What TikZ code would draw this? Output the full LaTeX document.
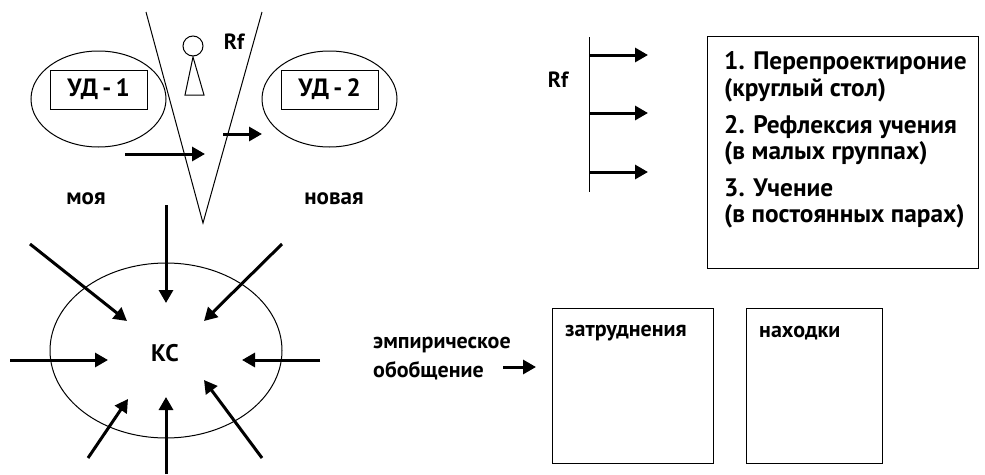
\documentclass[tikz,border=0pt]{standalone}
\usepackage{fontspec}
\setmainfont{PT Sans}
\usetikzlibrary{arrows.meta,shapes.geometric}
\begin{document}
\begin{tikzpicture}[x=1pt,y=-1pt,
  thin line/.style={line width=1pt},
  bigarrow/.style={line width=3pt,-{Triangle[length=13pt,width=14pt]}},
  lbl/.style={font=\bfseries\fontsize{23}{27}\selectfont,inner sep=0pt},
  boxtxt/.style={font=\bfseries\fontsize{25.3}{30}\selectfont,inner sep=0pt,anchor=west},
  oval/.style={draw,ellipse,thin line,inner sep=0pt},
  udbox/.style={draw,thin line,minimum width=97pt,minimum height=39pt,inner sep=0pt,font=\bfseries\fontsize{25}{29}\selectfont}
]
\useasboundingbox (0,0) rectangle (985,474);
% V shape
\coordinate (vl) at (146,12);
\coordinate (vr) at (262,12);
\coordinate (vt) at (203,223);
\draw[thin line] (vl) -- (vt) -- (vr);
% person
\node[draw,circle,thin line,minimum size=20pt,inner sep=0pt] (head) at (193,46) {};
\coordinate (pa) at (193,57);
\coordinate (pb) at (185,95);
\coordinate (pc) at (204,95);
\draw[thin line] (pa) -- (pb) -- (pc) -- cycle;
\node[lbl,font=\bfseries\fontsize{22}{26}\selectfont] (rf1) at (234,42) {Rf};
% ellipses
\node[oval,minimum width=135pt,minimum height=96pt] (e1) at (98.5,99) {};
\node[udbox] (ud1) at (98.5,89.5) {УД\,-\,1};
\node[oval,minimum width=135pt,minimum height=96pt] (e2) at (329.5,99) {};
\node[udbox] (ud2) at (329.5,89.5) {УД\,-\,2};
\coordinate (a1s) at (125,154);
\coordinate (a1e) at (205,154);
\draw[bigarrow] (a1s) -- (a1e);
\coordinate (a2s) at (223,134);
\coordinate (a2e) at (262,134);
\draw[bigarrow] (a2s) -- (a2e);
\node[lbl] (moya) at (86,199) {моя};
\node[lbl] (novaya) at (334,199) {новая};
% KC ellipse
\node[oval,minimum width=232pt,minimum height=175pt] (ks) at (166,350.5) {};
\node[lbl,font=\bfseries\fontsize{24}{28}\selectfont] (kc) at (165,353) {КС};
\coordinate (s1) at (166,205);  \coordinate (t1) at (166,303);
\coordinate (s2) at (30,244);   \coordinate (t2) at (127,321);
\coordinate (s3) at (282,244);  \coordinate (t3) at (204,321);
\coordinate (s4) at (10,360);   \coordinate (t4) at (108,360);
\coordinate (s5) at (320,360);  \coordinate (t5) at (242,360);
\coordinate (s6) at (88,458);   \coordinate (t6) at (128,399);
\coordinate (s7) at (166,474);  \coordinate (t7) at (166,397);
\coordinate (s8) at (262,458);  \coordinate (t8) at (204,380);
\foreach \i in {1,...,8} {\draw[bigarrow] (s\i) -- (t\i);}
% Rf with arrows
\node[lbl,font=\bfseries\fontsize{22}{26}\selectfont] (rf2) at (558,80) {Rf};
\coordinate (vt2) at (589,37);
\coordinate (vb2) at (589,192);
\draw[thin line] (vt2) -- (vb2);
\foreach \y [count=\k] in {55,113,172} {
  \coordinate (r\k s) at (589,\y);
  \coordinate (r\k e) at (648,\y);
  \draw[bigarrow] (r\k s) -- (r\k e);
}
% list box
\node[draw,thin line,minimum width=271pt,minimum height=232pt,inner sep=0pt] (list) at (842.5,152) {};
\node[boxtxt] (l1) at (724,63) {1. Перепроектироние};
\node[boxtxt] (l2) at (724,90) {(круглый стол)};
\node[boxtxt] (l3) at (724,127) {2. Рефлексия учения};
\node[boxtxt] (l4) at (724,153) {(в малых группах)};
\node[boxtxt] (l5) at (724,188) {3. Учение};
\node[boxtxt] (l6) at (724,216) {(в постоянных парах)};
% empirical
\node[lbl,font=\bfseries\fontsize{22}{26}\selectfont,anchor=west] (emp1) at (373,345) {эмпирическое};
\node[lbl,font=\bfseries\fontsize{22}{26}\selectfont,anchor=west] (emp2) at (373,371) {обобщение};
\node[draw,thin line,minimum width=161pt,minimum height=155pt,inner sep=0pt] (b1) at (632.5,385.5) {};
\node[draw,thin line,minimum width=136pt,minimum height=155pt,inner sep=0pt] (b2) at (814,385.5) {};
\coordinate (ea) at (503,367);
\coordinate (eb) at (536,367);
\draw[bigarrow] (ea) -- (eb);
\node[lbl,font=\bfseries\fontsize{22}{26}\selectfont,anchor=west] (zat) at (565,333) {затруднения};
\node[lbl,font=\bfseries\fontsize{22}{26}\selectfont,anchor=west] (nah) at (759,333) {находки};
\end{tikzpicture}
\end{document}
